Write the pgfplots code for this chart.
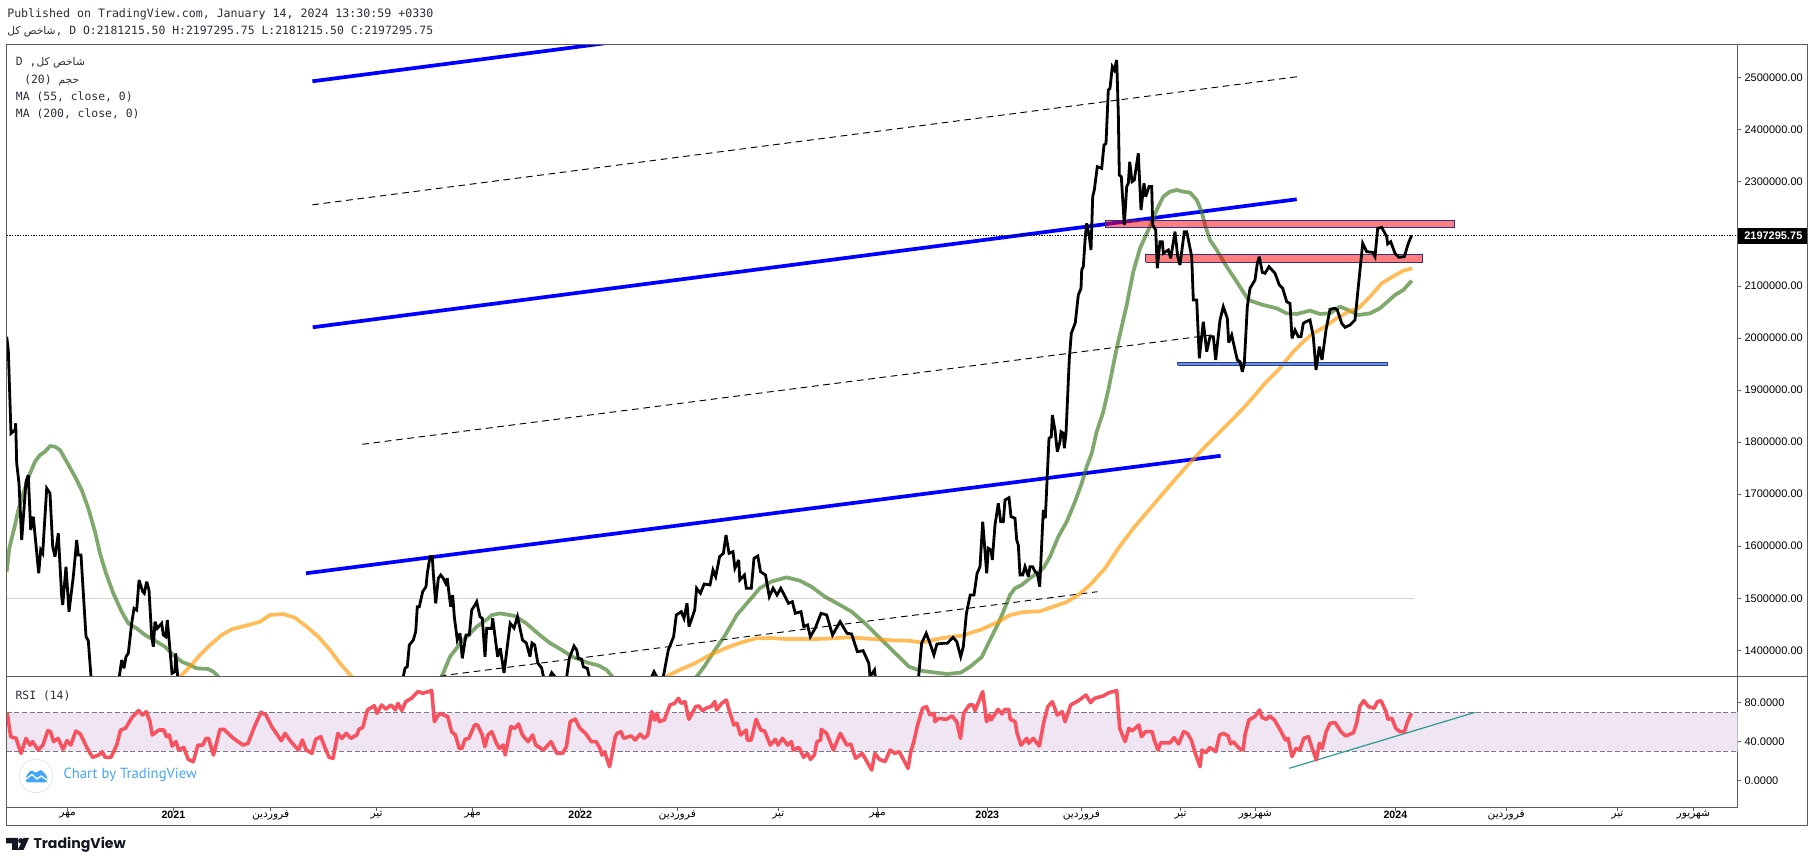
\documentclass[border=0pt]{standalone}
\usepackage{fontspec}
\usepackage{pgfplots}
\pgfplotsset{compat=1.18}
\setmainfont{Liberation Sans}
\newfontfamily\monofont{DejaVu Sans Mono}
\newfontfamily\arabicfont[Script=Arabic]{DejaVu Sans}
\newfontfamily\tvfont{Poppins}
\newfontfamily\chartfont{PT Sans}
\TeXXeTstate=1
\definecolor{frameC}{HTML}{5C5C5C}
\definecolor{txtC}{HTML}{2A2E39}
\definecolor{blueL}{HTML}{0000FF}
\definecolor{maG}{HTML}{3A7A1E}
\definecolor{maO}{HTML}{FF9800}
\definecolor{rsiC}{HTML}{F7525F}
\definecolor{bandC}{HTML}{F0E5F2}
\definecolor{dashC}{HTML}{787B86}
\definecolor{tealC}{HTML}{2A9D8F}
\definecolor{rectB}{HTML}{3A2A80}
\definecolor{rect3F}{HTML}{7090D0}
\definecolor{rect3B}{HTML}{1F3F9F}
\definecolor{tvBlue}{HTML}{42A5F5}
\definecolor{tvDark}{HTML}{131722}
\newcommand{\ar}[1]{{\arabicfont\beginR #1\endR}}
\begin{document}
\begin{tikzpicture}
\useasboundingbox (0,0) rectangle (1360.5pt,647.25pt);
\begin{axis}[
  at={(4.875pt,140.025pt)},anchor=south west,scale only axis,
  width=1298.25pt,height=474pt,
  xmin=6.5,xmax=1737.5,ymin=1350000,ymax=2564200,
  axis line style={color=frameC,line width=0.75pt},
  xtick=\empty,
  ytick={1400000,1500000,1600000,1700000,1800000,1900000,2000000,2100000,2300000,2400000,2500000},
  ytick pos=right,yticklabel pos=right,tick align=outside,
  major tick length=2.8pt,
  tick style={color=frameC,line width=0.6pt},
  scaled y ticks=false,
  yticklabel style={font=\fontsize{8.25}{10}\selectfont,color=black,anchor=west,xshift=-1pt,
    /pgf/number format/.cd,fixed,fixed zerofill,precision=2,1000 sep={},assume math mode=true},
  no markers
]
% price 1 500 000 level line
\addplot[color=pink,line width=0.4pt,dash pattern=on 1pt off 1pt] coordinates {(6.5,1500000)(1414,1500000)};
\addplot[color=tealC!25,line width=0.4pt,dash pattern=on 1pt off 1pt,dash phase=1pt] coordinates {(6.5,1500000)(1414,1500000)};
% blue channel
\addplot[color=blueL,line width=2.8pt] coordinates {(312.4,2493100)(620,2569900)};
\addplot[color=blueL,line width=2.8pt] coordinates {(312.7,2020500)(1296.7,2266400)};
\addplot[color=blueL,line width=2.8pt] coordinates {(306,1547900)(1220.6,1773600)};
% thin dashed channel
\addplot[color=black,line width=0.7pt,dash pattern=on 5pt off 3.5pt] coordinates {(312.4,2255800)(1297.7,2502000)};
\addplot[color=black,line width=0.7pt,dash pattern=on 5pt off 3.5pt] coordinates {(362.3,1795700)(1216.7,2007000)};
\addplot[color=black,line width=0.7pt,dash pattern=on 5pt off 3.5pt] coordinates {(440,1350600)(1097.3,1512500)};
% MA 55
\addplot[color=maG,opacity=0.65,line width=2.8pt,line join=round] coordinates {
(6.7,1551000)(9.3,1595800)(15,1640600)(18.3,1669500)(23.3,1701500)(30,1739900)(35,1762300)(40,1775100)(45,1781500)(50,1792400)(55,1791100)(60,1784700)(66.7,1762300)(75,1733500)(81.7,1707900)(88.3,1672700)(95,1627800)(100,1586200)(106,1547800)(113.3,1509400)(121.7,1474100)(128.3,1451700)(136.7,1442100)(145,1429300)(155,1418400)(165,1406900)(173.3,1390900)(181.7,1378100)(190,1371700)(196.7,1365300)(208.3,1364000)(213.3,1358900)(218.3,1349300)(228,1250000)(435,1250000)(441.7,1349300)(450,1387700)(461.7,1416500)(476.7,1445300)(488.3,1461300)(491.8,1467700)(500.3,1470900)(514.8,1465800)(526.3,1451700)(537.8,1432500)(549.3,1414600)(560.7,1401800)(572.2,1387700)(587.5,1376200)(599,1370400)(606.7,1362100)(612.4,1349300)(620,1280000)(690,1280000)(696.6,1349300)(704.2,1368500)(713.8,1397300)(725.3,1429300)(736.8,1467700)(748.3,1493400)(759.7,1519000)(771.2,1531800)(786.5,1540100)(799.9,1533700)(811.4,1522200)(824.8,1503000)(840.1,1486900)(851.6,1474100)(865,1451700)(878.4,1426100)(893.7,1397300)(909,1368500)(920.5,1360800)(935.8,1357000)(947.3,1354400)(960.7,1357000)(970.2,1368500)(981.7,1387000)(990,1419700)(998.3,1451800)(1003.3,1474100)(1010,1506200)(1015,1519100)(1021.7,1525400)(1030,1538300)(1043.3,1557500)(1050,1579800)(1058.3,1618200)(1066.7,1647000)(1075,1685400)(1081.7,1720800)(1086.7,1752700)(1091.7,1778400)(1096.7,1820000)(1103.3,1858400)(1108.3,1900000)(1112.3,1938500)(1116.7,1980100)(1121.7,2021700)(1126.7,2063300)(1133.3,2127400)(1140,2172200)(1148.3,2207400)(1156.7,2245900)(1163.3,2271500)(1170,2281100)(1176.7,2284300)(1183.3,2281100)(1190,2279200)(1196.7,2265100)(1201.7,2242600)(1205,2217000)(1210,2188200)(1216.7,2169000)(1226.7,2137000)(1236.7,2108200)(1248.3,2072900)(1263.3,2063300)(1276.7,2057000)(1286.7,2047300)(1296.7,2046100)(1310,2052500)(1320,2046100)(1330,2047300)(1340,2060100)(1348.3,2053700)(1358.3,2044100)(1370,2047300)(1380,2057000)(1395,2082600)(1403.3,2092100)(1411.7,2110100)};
% MA 200
\addplot[color=maO,opacity=0.65,line width=2.8pt,line join=round] coordinates {
(175,1300000)(180,1349300)(190,1368500)(200,1390900)(210,1410100)(221.7,1429300)(231.7,1440200)(248.3,1448500)(260,1454900)(270,1467700)(283.3,1469600)(295,1462600)(306.7,1445300)(318.3,1426100)(330,1400500)(340,1374900)(351.7,1349300)(355,1300000)(660,1300000)(666,1349300)(679.4,1362100)(694.7,1374900)(710,1390900)(725.3,1403700)(740.6,1414600)(755.9,1422900)(771.2,1423500)(786.5,1421600)(801.8,1421600)(817.1,1421600)(832.5,1422900)(847.8,1424800)(863.1,1422900)(878.4,1421000)(893.7,1419000)(909,1418400)(922.4,1414600)(935.8,1421000)(951.1,1426100)(962.6,1428000)(974,1435700)(980,1438900)(996.7,1453000)(1010,1467700)(1023.3,1473500)(1040,1474900)(1051.7,1482600)(1066.7,1492700)(1078.3,1506200)(1090,1525400)(1105,1557500)(1118.3,1595900)(1133.3,1634300)(1150,1672000)(1168.3,1713000)(1188.3,1757000)(1206.7,1794300)(1225,1829500)(1243.3,1864900)(1255,1890400)(1265,1912900)(1278.3,1938500)(1285,1954400)(1293.3,1973600)(1303.3,1992800)(1313.3,2009000)(1325,2021600)(1336.7,2037800)(1348.3,2050500)(1358.3,2057000)(1370,2079300)(1381.7,2105000)(1391.7,2116600)(1403.3,2129300)(1412.3,2133800)};
% zones
\addplot[draw=rectB,fill=red,fill opacity=0.5,line width=0.8pt] coordinates {(1105.3,2212600)(1454.3,2212600)(1454.3,2225300)(1105.3,2225300)(1105.3,2212600)};
\addplot[draw=rectB,fill=red,fill opacity=0.5,line width=0.8pt] coordinates {(1145.7,2145400)(1422.3,2145400)(1422.3,2160000)(1145.7,2160000)(1145.7,2145400)};
\addplot[draw=rect3B,fill=rect3F,line width=0.8pt] coordinates {(1177.7,1947500)(1387.3,1947500)(1387.3,1953300)(1177.7,1953300)(1177.7,1947500)};
% close
\addplot[color=black,line width=2.1pt,miter limit=4] coordinates {
(6.7,2002500)(8.3,1976800)(11,1816700)(15,1823100)(15.7,1836000)(16.7,1759000)(19,1720700)(21.7,1611800)(26,1723900)(28.3,1736700)(30.7,1631000)(33.3,1656600)(38.7,1547800)(40.7,1592600)(42.7,1586200)(46.7,1711100)(50,1701500)(52.7,1599000)(55,1579800)(58.3,1624600)(61.7,1503000)(62.7,1487000)(66,1560600)(69,1474100)(73.3,1541400)(76.7,1611800)(78.3,1583000)(81,1583000)(86,1426100)(88.3,1418400)(91,1349300)(95,1250000)(115,1250000)(119.3,1349300)(121.7,1381300)(124,1365300)(126,1387700)(128.3,1394100)(131.7,1451700)(134,1480500)(136.7,1477300)(139,1535000)(142.7,1512600)(144.3,1509400)(146.7,1531800)(149,1515700)(151.7,1426100)(153.3,1406900)(155,1454900)(157.3,1442100)(161.7,1451700)(163.3,1429300)(165.7,1426100)(167.3,1458100)(170,1400500)(172,1355700)(175,1358900)(175.7,1394100)(177.7,1349300)(180,1250000)(400,1250000)(403.3,1349300)(405,1365300)(407.3,1368500)(409.3,1410100)(413.3,1419700)(415.7,1435700)(417.3,1483700)(419.3,1483700)(422.7,1512600)(426,1522200)(427.3,1547800)(430,1579800)(432.3,1579800)(433.3,1547800)(435.7,1490100)(438.3,1538200)(440.7,1544600)(443.3,1538200)(445.7,1528600)(447.3,1538200)(449,1509400)(450.7,1483700)(452.7,1506200)(454.3,1464500)(457.3,1419700)(460,1432500)(462.3,1384500)(466,1429300)(469.3,1429300)(471.7,1477300)(475,1487000)(476.7,1493300)(480,1464500)(482.3,1461300)(485,1387700)(486.7,1442100)(491.7,1442100)(492.7,1461300)(497.6,1387700)(500.3,1403800)(504,1356300)(510.2,1451800)(514,1442800)(517.5,1464500)(522.5,1419700)(526.3,1414000)(530,1387700)(532,1414000)(534.7,1410200)(537.8,1375600)(541.6,1366000)(543.5,1349200)(545,1250000)(548,1250000)(550,1349200)(551.7,1356900)(555,1349200)(557,1250000)(564,1250000)(566.7,1349200)(569.3,1384600)(574,1408200)(576.7,1400500)(578.3,1384600)(581.7,1382700)(583.3,1368400)(587.3,1365300)(589.3,1349200)(592,1250000)(649,1250000)(651.7,1349200)(654,1358800)(656.7,1349200)(659,1250000)(661,1250000)(663.3,1349200)(668.3,1400500)(673.6,1426100)(676.3,1467800)(681.3,1474100)(684,1461400)(687,1490200)(689,1445300)(694.7,1477400)(696.6,1519100)(700.4,1509500)(704.2,1527300)(710,1525400)(713,1554200)(715.7,1541400)(719.6,1579800)(723.4,1586300)(726,1621500)(729,1586300)(733,1589400)(734.9,1557500)(738.7,1573400)(739.8,1535000)(744.4,1544600)(746.3,1519100)(751.3,1519100)(754,1576700)(757.8,1581100)(760.5,1551000)(765.5,1544600)(769.3,1503000)(773.1,1519100)(777,1506200)(780.8,1519100)(788.4,1490200)(792.3,1493300)(795.3,1471000)(801,1474100)(803.8,1445300)(807.6,1448600)(810.3,1426100)(815.2,1442200)(821,1471000)(826.7,1467800)(832.5,1429300)(840.1,1454900)(847,1432600)(851.6,1431300)(857.3,1397300)(863.1,1399200)(868.8,1375000)(870,1349200)(874.5,1362100)(875.3,1349200)(877,1250000)(916,1250000)(918.6,1349200)(921.6,1413400)(926.2,1432600)(930,1413400)(933.9,1390900)(936.9,1412000)(943.4,1413400)(947.3,1413400)(953,1424900)(956.8,1416500)(960.7,1387700)(963.3,1406900)(966.4,1471000)(970.2,1506200)(974,1506200)(977.1,1547900)(980,1560600)(982.7,1647000)(986.7,1547900)(988.3,1595900)(991,1592600)(992.3,1573400)(995,1640700)(998.3,1682400)(1000.7,1647000)(1003.3,1647000)(1005,1688700)(1009,1693100)(1011,1656600)(1015,1653600)(1016.7,1611800)(1018.3,1602300)(1020,1544600)(1022.7,1544600)(1025,1560600)(1028.3,1541400)(1030,1560600)(1032.7,1560600)(1035,1551000)(1037.3,1547900)(1039.7,1522200)(1043.3,1669500)(1045.3,1653600)(1049,1807200)(1051.3,1810300)(1052.3,1852000)(1055,1823200)(1057.3,1781500)(1060,1800700)(1061,1819900)(1063.3,1816800)(1064.3,1788000)(1066,1816800)(1069.3,1960000)(1071.3,2008900)(1075.3,2029400)(1078.3,2082500)(1081,2095300)(1081.7,2130600)(1083.3,2137000)(1085.3,2194600)(1086.7,2220200)(1089.3,2194600)(1091,2169000)(1092.7,2271500)(1094.3,2284300)(1097.3,2329100)(1101.7,2325900)(1104,2370700)(1106,2373900)(1108.3,2476400)(1110,2479600)(1112.3,2521200)(1114.3,2514800)(1116.7,2534000)(1118.3,2431600)(1119.3,2313100)(1121.3,2309900)(1124.3,2217000)(1126.7,2290700)(1128.3,2297100)(1129.7,2338700)(1132,2300300)(1134.3,2303500)(1138.3,2354700)(1141,2245900)(1144,2297100)(1145.7,2271500)(1149,2290700)(1151.7,2290700)(1152.7,2217000)(1155.7,2207400)(1157.3,2133800)(1160,2185000)(1162.3,2185000)(1163.3,2162600)(1168.3,2169000)(1170.7,2153000)(1175,2204200)(1177.7,2156200)(1180,2140200)(1184.3,2204200)(1186.7,2204200)(1191.7,2156200)(1193.3,2072900)(1196.7,2072900)(1199.3,1960900)(1203.3,2031300)(1206.7,1973700)(1210,2002500)(1213.3,2002500)(1215.7,1957700)(1220,2034500)(1223.3,2060100)(1227.3,2037700)(1228.7,1991000)(1231.7,2005700)(1235,1976900)(1237.3,1957700)(1240,1954500)(1242.3,1935200)(1244.3,1951200)(1247.3,2060100)(1250,2095300)(1255,2111400)(1257.3,2143400)(1259.3,2156200)(1262.3,2126100)(1265,2124200)(1269,2137000)(1275,2124200)(1279.3,2101800)(1282.7,2095300)(1286.7,2069700)(1290,2066500)(1292,1999300)(1295,2015300)(1298.3,2002500)(1301,2002500)(1303.3,2028100)(1306,2031300)(1310,2034500)(1313.3,2002500)(1316,1938500)(1319.3,1983300)(1322,1957700)(1326,2015300)(1330,2055000)(1335,2057000)(1337.3,2053700)(1341.7,2028100)(1345,2020400)(1350,2024900)(1355,2034500)(1358.3,2098500)(1362.7,2181800)(1366.7,2165800)(1372.7,2164500)(1375,2156200)(1377.7,2210600)(1381.7,2212600)(1386.7,2194600)(1387.7,2180500)(1390.7,2185000)(1395,2162600)(1399,2154900)(1404.3,2156200)(1408.3,2181800)(1411.7,2197300)};
% last price line
\addplot[color=black,line width=0.8pt,dash pattern=on 1pt off 1pt] coordinates {(6.5,2197295.75)(1737.5,2197295.75)};
\end{axis}
\begin{axis}[
  at={(4.875pt,41.775pt)},anchor=south west,scale only axis,
  width=1298.25pt,height=98.25pt,
  xmin=6.5,xmax=1737.5,ymin=-27.4,ymax=106.9,
  axis line style={color=frameC,line width=0.75pt},
  xtick={67.7,173.4,270.6,376.6,472.6,580.2,677.3,778.3,877.5,987.3,1081.4,1180.6,1255.2,1395.4,1506.2,1617.4,1693.3},
  xticklabels={\ar{مهر},\textbf{2021},\ar{فروردین},\ar{تیر},\ar{مهر},\textbf{2022},\ar{فروردین},\ar{تیر},\ar{مهر},\textbf{2023},\ar{فروردین},\ar{تیر},\ar{شهریور},\textbf{2024},\ar{فروردین},\ar{تیر},\ar{شهریور}},
  xtick pos=bottom,
  xticklabel style={font=\fontsize{8}{9}\selectfont,color=black,anchor=center,yshift=-3pt},
  ytick={0,40,80},
  ytick pos=right,yticklabel pos=right,tick align=outside,
  major tick length=2.8pt,
  tick style={color=frameC,line width=0.6pt},
  yticklabel style={font=\fontsize{8.25}{10}\selectfont,color=black,anchor=west,xshift=-1pt,
    /pgf/number format/.cd,fixed,fixed zerofill,precision=4,assume math mode=true},
  no markers
]
\addplot[draw=none,fill=bandC] coordinates {(6.5,30)(1737.5,30)(1737.5,70)(6.5,70)(6.5,30)};
\addplot[color=dashC,line width=0.9pt,dash pattern=on 3.8pt off 2pt] coordinates {(6.5,70)(1737.5,70)};
\addplot[color=dashC,line width=0.9pt,dash pattern=on 3.8pt off 2pt] coordinates {(6.5,30)(1737.5,30)};
\addplot[color=tealC,line width=0.9pt] coordinates {(1289.3,12.6)(1475.3,70)};
\addplot[color=rsiC,line width=2.7pt,line join=round] coordinates {
(7.3,68.9)(10.7,45)(16.1,43.3)(21,27.9)(26,43.3)(29.9,36.4)(32.5,39.9)(38.3,31.3)(42.9,36.4)(47.8,51.2)(50.5,50.1)(53.6,39.9)(58.2,43.3)(63.1,32)(67,40.9)(70.8,36.4)(75.8,50.8)(80.4,47.7)(87.3,33)(92.6,23.8)(98.7,26.2)(102.2,29.6)(105.2,23.8)(111,23.8)(116.7,36.4)(120.6,51.8)(125.5,53.6)(132,64.8)(138.5,71.7)(142.4,67.2)(146.2,70.7)(150,60.4)(152.3,46.7)(158.8,51.8)(163.8,51.8)(166.5,45)(169.2,46.7)(172.2,35.4)(176,39.9)(178.7,31.3)(183.7,34)(188.3,21.7)(193.3,19.4)(197.9,36.4)(202.8,36.4)(205.9,43.3)(208.6,43.3)(213.5,26.2)(220,52.5)(223.9,52.5)(233.4,43.3)(243,36.4)(248,38.2)(254.5,55.3)(261,70)(266,67.2)(271.7,55.3)(281.3,40.9)(285.1,48.4)(290.9,39.9)(298.5,31.3)(302.3,41.6)(306.2,31.3)(311.9,27.9)(315.7,42.3)(320.7,45)(325.3,33)(329.1,23.8)(333,22.8)(337.9,48.4)(341.8,43.3)(346.3,48.4)(350.9,43.3)(356.7,46.7)(359,52.5)(362.8,54.6)(367.4,72.4)(374.3,76.8)(377,68.9)(381.6,77.5)(385.8,73.2)(391.1,77.5)(395.3,72.4)(398,79.2)(401.8,71.7)(405.7,80.9)(411.4,84.3)(417.9,91.2)(422.9,89.5)(431.7,92.2)(434.4,60.4)(439.3,68.9)(443.9,67.2)(447.8,65.5)(451.6,50.1)(455.4,46.7)(459.2,33)(461.9,33)(465,42.3)(468.8,43.3)(474.6,57)(477.6,57)(482.2,46.7)(484.9,34.7)(487.9,46.7)(491.8,50.1)(496.4,38.2)(499.4,33)(503.3,36.4)(505.2,26.2)(510.9,55.3)(514.7,53.6)(518.6,58)(522.4,46.7)(528.1,39.9)(532.7,46.7)(535.8,36.4)(543.4,31.3)(551.1,39.9)(556.8,27.9)(562.6,27.9)(566.4,34.7)(570.2,60.4)(575.2,63.1)(579.8,53.6)(585.5,48.4)(591.3,39.9)(596.2,39.9)(600,33)(601.9,26.2)(604.6,29.6)(609.6,14.2)(615.3,45)(617.2,48.4)(621,50.1)(623.7,43.3)(628.7,45)(631.4,45.7)(635.2,41.6)(640.2,47.7)(644,43.3)(647.8,46.7)(651.7,70.7)(654.7,62.1)(656.6,68.9)(659.3,60.4)(664.3,62.1)(670,77.5)(674.6,79.2)(678.5,84.3)(681.1,79.2)(685,80.9)(688.8,62.8)(695.7,75.8)(698.7,76.5)(702.6,71.7)(707.2,74.8)(711,75.8)(714.8,80.9)(716.7,72.4)(721.7,79.2)(726.3,82.6)(730.1,68.9)(733.9,57)(737,58.7)(740.5,46.7)(746.2,51.8)(747.3,41.6)(751.2,41.6)(756.1,62.8)(760.7,51.8)(764.6,50.8)(770.3,36.4)(775.3,42.3)(778,36.4)(782.5,43.3)(787.5,36.4)(791.4,39.9)(793.3,31.3)(799,34)(803.6,23.8)(807.4,27.9)(810.5,21.7)(814.3,26.2)(817,39.9)(820.8,41.6)(821.2,52.5)(826.6,48.4)(833.4,31.3)(840.3,48.4)(846.8,36.4)(850.7,37.5)(855.6,22.8)(862.2,27.9)(866,21.1)(871.7,10.8)(874.8,27.9)(879.4,21.7)(885.1,19.4)(890.1,31.3)(894.7,27.9)(899.3,29.6)(908.1,12.5)(910.8,29.6)(913.8,39.9)(917.6,57)(922.6,74.1)(926.4,75.8)(929.9,67.2)(934.1,68.9)(934.9,60.4)(938.7,63.8)(946.3,62.8)(952.1,66.2)(956.7,60.4)(960.5,43.3)(963.6,68.9)(969.3,77.5)(973.1,77.5)(975,71.7)(982.7,91.2)(986.5,60.4)(989.6,67.2)(991.1,62.1)(998,73)(1001.8,68.3)(1004.9,73)(1008.7,73)(1010.3,62.8)(1015.2,60.4)(1017.1,48.4)(1021,36.4)(1026.7,43.3)(1028.6,38.2)(1033.2,43.3)(1039.3,35.4)(1043.9,60.4)(1047.8,75.8)(1052.3,80.9)(1057.3,67.2)(1062.3,70.7)(1065,60.4)(1070.7,77.5)(1078.4,81.9)(1086,87.7)(1090.6,79.9)(1094.4,84.3)(1103.3,86.7)(1109,90.1)(1116.7,92.2)(1119.7,53.6)(1125.1,39.9)(1128.9,53.6)(1132,50.8)(1138.8,57)(1141.5,45)(1145.4,50.1)(1152.2,50.1)(1154.2,41.6)(1158,31.3)(1160.7,38.8)(1170.2,38.8)(1174.1,44)(1178.6,37.5)(1183.6,50.1)(1187.4,48.4)(1191.3,41.6)(1195.1,28.6)(1200,14.2)(1202,31.3)(1205.9,28.6)(1209.8,34)(1215.7,29.6)(1219.6,46.7)(1223.5,48.4)(1228.2,45.7)(1230.5,37.5)(1233.3,39.9)(1239.2,33)(1243.1,31.3)(1245,46.7)(1248.9,62.1)(1254.8,65.5)(1259.5,72.4)(1261.9,64.8)(1266.6,62.8)(1269.7,66.2)(1274.4,62.1)(1280.3,51.8)(1285.4,41.6)(1288.1,43.3)(1292,24.5)(1295.9,33)(1299.8,31.3)(1303.8,43.3)(1308.5,45)(1311.6,34.7)(1316.3,21.1)(1319.4,38.2)(1322.2,33)(1326.1,50.1)(1330,58.7)(1335.1,59.4)(1341,50.1)(1345.7,45.7)(1353.5,49.1)(1356.6,58.7)(1359.7,75.8)(1363.7,81.9)(1368.4,75.8)(1374.2,74.1)(1377.4,80.9)(1380.9,81.9)(1386,70.7)(1387.9,62.8)(1391.9,63.8)(1395.8,53.6)(1399.7,50.1)(1404.4,50.1)(1407.5,60.4)(1411.4,69)};
\end{axis}
\begin{scope}[shift={(0pt,647.25pt)},x=0.75pt,y=-0.75pt]
% outer frame
\draw[frameC,line width=0.75pt] (6.5,44.3) rectangle (1807.5,826);
\draw[frameC,line width=0.75pt] (1737.5,676.3) -- (1807.5,676.3);
% last price tag
\fill[black] (1737.5,227.7) rectangle (1807,244);
\node[anchor=west,inner sep=0,text=white,font=\fontsize{8.25}{10}\selectfont\bfseries] at (1744,235.7) {2197295.75};
% header
\node[anchor=west,inner sep=0,text=txtC,font=\fontsize{8.7}{10}\selectfont\monofont] at (7,14.3) {Published on TradingView.com, January 14, 2024 13:30:59 +0330};
\node[anchor=west,inner sep=0,text=txtC,font=\fontsize{8.55}{10}\selectfont\monofont] at (7,32) {{\fontsize{8}{10}\selectfont\ar{شاخص کل}}, D O:2181215.50 H:2197295.75 L:2181215.50 C:2197295.75};
% legend
\node[anchor=west,inner sep=0,text=txtC,font=\fontsize{8.55}{10}\selectfont\monofont] at (15.7,62.7) {D ,{\fontsize{8}{10}\selectfont\ar{شاخص کل}}};
\node[anchor=west,inner sep=0,text=txtC,font=\fontsize{8.55}{10}\selectfont\monofont] at (24,80) {(20) {\fontsize{8}{10}\selectfont\ar{حجم}}};
\node[anchor=west,inner sep=0,text=txtC,font=\fontsize{8.55}{10}\selectfont\monofont] at (15.7,97.3) {MA (55, close, 0)};
\node[anchor=west,inner sep=0,text=txtC,font=\fontsize{8.55}{10}\selectfont\monofont] at (15.7,114) {MA (200, close, 0)};
\node[anchor=west,inner sep=0,text=txtC,font=\fontsize{8.55}{10}\selectfont\monofont] at (15.3,695.7) {RSI (14)};
% chart badge
\filldraw[draw=black!10,fill=white,line width=0.6pt] (36,776) circle[radius=16.7];
\fill[tvBlue,rounded corners=1pt] (26,782.5) -- (26,776) -- (31,770) -- (36,773) -- (41,769.5) -- (47,776) -- (47,782.5) -- cycle;
\draw[white,line width=1pt] (26,779) -- (32,774.5) -- (37,779) -- (41,776) -- (47,780);
\node[anchor=west,inner sep=0,text=tvBlue,font=\fontsize{11}{12}\selectfont\chartfont] at (63.3,775.3) {Chart by TradingView};
% logo
\fill[tvDark] (6,838) -- (18,838) -- (18,850) -- (12,850) -- (12,843.5) -- (6,843.5) -- cycle;
\fill[tvDark] (20.8,840.7) circle[radius=2.6];
\fill[tvDark] (23.5,838) -- (29,838) -- (23.5,850) -- (17.8,850) -- cycle;
\node[anchor=west,inner sep=0,text=tvDark,font=\fontsize{10.6}{13}\selectfont\tvfont\bfseries] at (33.3,845) {TradingView};
\end{scope}
\end{tikzpicture}
\end{document}
